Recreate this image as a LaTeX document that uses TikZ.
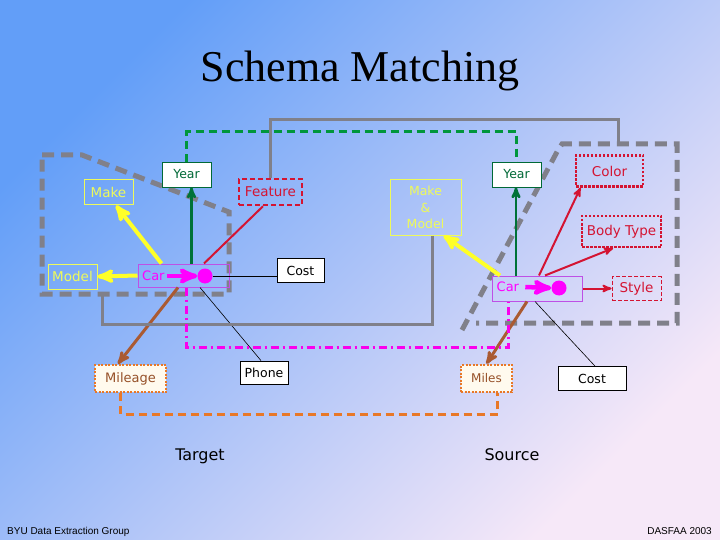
\documentclass[tikz,border=0pt]{standalone}
\usepackage{fontspec}
\setmainfont{DejaVu Sans}
\newfontfamily\titlefont{Liberation Serif}
\newfontfamily\footfont{Liberation Sans}
\usetikzlibrary{arrows,calc}
\definecolor{BgBlue}{RGB}{98,158,248}
\definecolor{BgMid}{RGB}{140,192,250}
\definecolor{BgPink}{RGB}{246,232,248}
\definecolor{DarkGreen}{RGB}{0,105,55}
\definecolor{MatchGreen}{RGB}{0,150,60}
\definecolor{LabelYellow}{RGB}{238,250,90}
\definecolor{ArrowYellow}{RGB}{255,255,40}
\definecolor{FeatRed}{RGB}{212,20,50}
\definecolor{CarMagenta}{RGB}{255,0,255}
\definecolor{CarBorder}{RGB}{190,80,230}
\definecolor{LinkBrown}{RGB}{170,90,50}
\definecolor{MileOrange}{RGB}{232,120,40}
\definecolor{MileText}{RGB}{150,80,40}
\definecolor{MileFill}{RGB}{255,250,238}
\definecolor{PolyGray}{RGB}{128,128,138}
\newcommand{\lblsize}[1]{\fontsize{#1}{#1}\selectfont}
\tikzset{
  whitebox/.style={draw=black, fill=white, inner sep=0pt, line width=0.8pt, font=\lblsize{12.5}},
  yearbox/.style={whitebox, draw=DarkGreen, text=DarkGreen},
  yellowbox/.style={draw=LabelYellow, text=LabelYellow, inner sep=0pt, line width=1pt, font=\lblsize{13.5}},
  redbox/.style={draw=FeatRed, text=FeatRed, inner sep=0pt, line width=2.5pt, dash pattern=on 2.5pt off 1.5pt, font=\lblsize{13.5}},
  featbox/.style={redbox, dash pattern=on 5pt off 3pt},
  stylebox/.style={redbox, line width=1pt, dash pattern=on 4pt off 2pt},
  carbox/.style={draw=CarBorder, inner sep=0pt, line width=1pt},
  cartext/.style={text=CarMagenta, inner sep=0pt, font=\lblsize{13}},
  cardot/.style={circle, fill=CarMagenta, minimum size=15pt, inner sep=0pt},
  milebox/.style={draw=MileOrange, fill=MileFill, text=MileText, inner sep=0pt, line width=2.5pt, dash pattern=on 2pt off 1.5pt, font=\lblsize{13}},
  polyline/.style={draw=PolyGray, line width=5pt, dash pattern=on 12pt off 7pt},
  grayline/.style={draw=PolyGray, line width=3pt},
  yellowarrow/.style={draw=ArrowYellow, line width=4pt, ->},
  greenarrow/.style={draw=DarkGreen!80!MatchGreen, line width=2.5pt, ->},
  redarrow/.style={draw=FeatRed, line width=2pt, ->},
  brownarrow/.style={draw=LinkBrown, line width=3pt, ->},
  thinline/.style={draw=black, line width=0.6pt}
}
\begin{document}
\begin{tikzpicture}[x=1pt, y=-1pt, >=stealth']
\useasboundingbox (0,0) rectangle (720,540);
\shade[top color=BgBlue, middle color=BgMid, bottom color=BgPink, shading angle=45] (0,0) rectangle (720,540);

\node[anchor=base, font=\titlefont\fontsize{44}{50}\selectfont, text=black] (title) at (360,81.7) {Schema Matching};

% schema groups
\draw[polyline] (42,155) -- (82,155) -- (229,212) -- (229,294) -- (42,294) -- cycle;
\draw[polyline] (462,330) -- (558,150) -- (562,144) -- (677,144) -- (677,323) -- (476,323);
\coordinate (tpoly) at (102,294);
\coordinate (spoly) at (618.7,144);

% target schema
\node[yearbox, minimum width=49pt, minimum height=25pt] (tyear) at (186.5,174.5) {Year};
\node[yellowbox, minimum width=49pt, minimum height=25pt] (tmake) at (108.5,192.5) {Make};
\node[featbox, minimum width=63pt, minimum height=26pt] (tfeat) at (270.5,192) {Feature};
\node[yellowbox, minimum width=49pt, minimum height=25pt] (tmodel) at (72.5,276.5) {Model};
\node[carbox, minimum width=91pt, minimum height=23pt] (tcar) at (183.5,275.5) {};
\node[cartext, anchor=west] (tcartxt) at (142,276) {Car};
\node[cardot] (tdot) at (205,276) {};
\node[whitebox, minimum width=47pt, minimum height=24pt] (tcost) at (300.5,270.5) {Cost};
\node[whitebox, minimum width=48pt, minimum height=23pt] (tphone) at (264,372.5) {Phone};
\node[milebox, minimum width=71pt, minimum height=27pt] (tmileage) at (130.5,378.5) {Mileage};

% source schema
\node[yellowbox, align=center, font=\fontsize{12.5}{16.5}\selectfont, minimum width=71pt, minimum height=55pt] (sm) at (425.5,207.5) {Make\\\&\\Model};
\node[yearbox, minimum width=49pt, minimum height=25pt] (syear) at (516.5,174.5) {Year};
\node[redbox, minimum width=67pt, minimum height=31pt] (scolor) at (609.5,171) {Color};
\node[redbox, minimum width=79pt, minimum height=31pt] (sbody) at (621.5,231.5) {Body Type};
\node[stylebox, minimum width=49pt, minimum height=24pt] (sstyle) at (636.5,288.5) {Style};
\node[carbox, minimum width=90pt, minimum height=25pt] (scar) at (537,288.5) {};
\node[cartext, anchor=west] (scartxt) at (496.5,287) {Car};
\node[cardot] (sdot) at (559,288) {};
\node[whitebox, minimum width=68pt, minimum height=24pt] (scost) at (592,378.5) {Cost};
\node[milebox, font=\lblsize{12}, minimum width=51pt, minimum height=27pt] (smiles) at (486.5,378.5) {Miles};

% object sets
\draw[CarMagenta, line width=4.5pt, ->] ([xshift=2pt]tcartxt.east) -- (tdot.west);
\draw[CarMagenta, line width=4.5pt, ->] ([xshift=6pt]scartxt.east) -- (sdot.west);

% target relationships
\draw[yellowarrow] ([xshift=24pt]tcar.north west) -- ([xshift=7.5pt]tmake.south);
\draw[yellowarrow] (tcar.west) -- (tmodel.east);
\draw[greenarrow] ([xshift=8pt]tcar.north) -- ([xshift=8pt]tcar.north |- tyear.south);
\draw[FeatRed, line width=2pt] ([xshift=20.5pt]tcar.north) -- ([xshift=-7.5pt]tfeat.south);
\draw[thinline] (tdot) -- (tdot -| tcost.west);
\draw[thinline] ([xshift=16.5pt]tcar.south) -- ([xshift=-3pt]tphone.north);
\draw[brownarrow] ([xshift=-5.5pt]tcar.south) -- ([xshift=-12.5pt]tmileage.north);

% source relationships
\draw[yellowarrow] ([xshift=-37pt]scar.north) -- ([xshift=18pt]sm.south);
\draw[greenarrow] ([xshift=-21pt]scar.north) -- ([xshift=-21pt]scar.north |- syear.south);
\draw[redarrow] ([xshift=2pt]scar.north) -- ([xshift=-29pt]scolor.south);
\draw[redarrow] ([xshift=8pt]scar.north) -- ([xshift=-8.5pt]sbody.south);
\draw[redarrow] (scar.east) -- (sstyle.west);
\draw[thinline] ([xshift=-2pt]scar.south) -- ([xshift=3pt]scost.north);
\draw[brownarrow] ([xshift=-10pt]scar.south) -- (smiles.north);

% matches
\draw[MatchGreen, line width=3pt, dash pattern=on 8pt off 5pt] (tyear.north) -- ++(0,-30) -| (syear.north);
\draw[grayline] (tfeat.north) -- ++(0,-58) -| (spoly);
\draw[grayline] ([xshift=7pt]sm.south) -- ++(0,89) -| (tpoly);
\draw[CarMagenta!90!purple, line width=3pt, dash pattern=on 8pt off 4pt on 2pt off 4pt] ([xshift=3pt]tcar.south) -- ++(0,60) -| ([xshift=-29pt]scar.south);
\draw[MileOrange, line width=3pt, dash pattern=on 8pt off 5pt] ([xshift=-10pt]tmileage.south) -- ++(0,21) -| ([xshift=11pt]smiles.south);

% captions
\node[anchor=base, font=\lblsize{16}] (target) at (200,460) {Target};
\node[anchor=base, font=\lblsize{16}] (source) at (512,460) {Source};
\node[anchor=base west, inner sep=0pt, font=\footfont\lblsize{10}] (group) at (7,534) {BYU Data Extraction Group};
\node[anchor=base east, inner sep=0pt, font=\footfont\lblsize{10}] (conf) at (712,534) {DASFAA 2003};
\end{tikzpicture}
\end{document}
